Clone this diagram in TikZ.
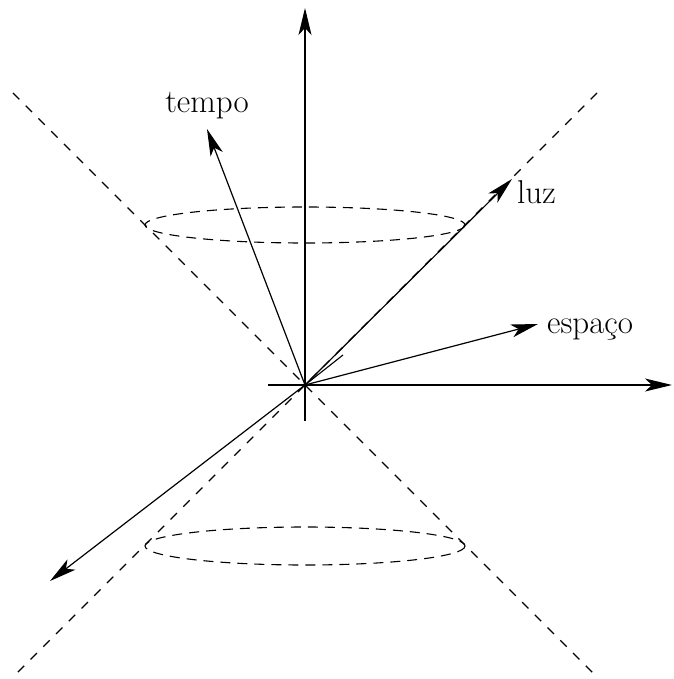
\documentclass[tikz,border=0pt]{standalone}
\usetikzlibrary{arrows.meta}
\begin{document}
\begin{tikzpicture}[x=1pt,y=-1pt,
  axis/.style={line width=1.2pt,-{Stealth[length=27pt,width=13pt,inset=7pt]}},
  cone/.style={line width=1.1pt,dash pattern=on 9pt off 9pt},
  ring/.style={line width=1.1pt,dash pattern=on 10pt off 7pt},
  lbl/.style={font=\fontsize{33}{39}\selectfont,inner sep=0pt}]
\useasboundingbox (0,0) rectangle (673,679);
\coordinate (O) at (305,385);
\coordinate (Ytop) at (305,8);
\coordinate (Ybot) at (305,421);
\coordinate (Xl) at (268,385);
\coordinate (Xr) at (672,385);
\coordinate (T) at (207,129);
\coordinate (L) at (512,179);
\coordinate (E) at (538,324);
\coordinate (F) at (50,581);
\coordinate (S) at (343,355);
\coordinate (C1) at (13,93);
\coordinate (C2) at (597,677);
\coordinate (C3) at (597,93);
\coordinate (C4) at (13,677);
% cone
\draw[cone] (C1) -- (C2);
\draw[cone] (C3) -- (C4);
\draw[ring] (305,225) ellipse [x radius=160, y radius=18];
\draw[ring] (305,546) ellipse [x radius=160, y radius=19];
% axes
\draw[axis] (Ybot) -- (Ytop);
\draw[axis] (Xl) -- (Xr);
\draw[axis] (O) -- (T);
\draw[axis] (O) -- (L);
\draw[axis] (O) -- (E);
\draw[axis] (O) -- (F);
\draw[line width=1.1pt] (O) -- (S);
% labels
\node[lbl,anchor=base] (tempo) at (207,113) {tempo};
\node[lbl,anchor=base west] (luz) at (517,203) {luz};
\node[lbl,anchor=base west] (espaco) at (547,333) {espaço};
\end{tikzpicture}
\end{document}
